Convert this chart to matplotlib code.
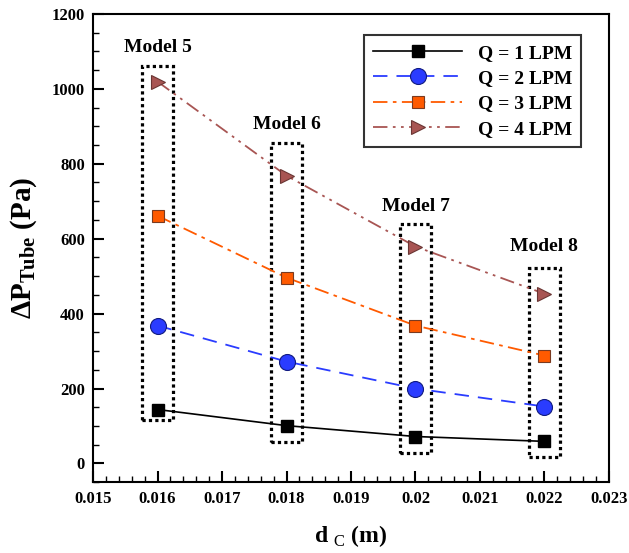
import matplotlib
matplotlib.use("Agg")
import matplotlib.pyplot as plt
from matplotlib.patches import Rectangle
from matplotlib.ticker import MultipleLocator

plt.rcParams['font.family'] = ['Liberation Serif', 'DejaVu Serif']
plt.rcParams['mathtext.fontset'] = 'custom'
plt.rcParams['mathtext.rm'] = 'Liberation Serif'
plt.rcParams['mathtext.bf'] = 'Liberation Serif:bold'

d_c = [0.016, 0.018, 0.020, 0.022]
q1 = [144, 101, 72, 59]
q2 = [368, 272, 200, 152]
q3 = [661, 496, 368, 288]
q4 = [1019, 768, 579, 453]
series_labels = ['Q = 1 LPM', 'Q = 2 LPM', 'Q = 3 LPM', 'Q = 4 LPM']
model_labels = ['Model 5', 'Model 6', 'Model 7', 'Model 8']
box_top = [1061, 856, 640, 523]
box_bottom = [115, 56, 29, 16]
label_y = [1110, 905, 685, 580]

fig = plt.figure(figsize=(6.29, 5.53), dpi=100)
ax = fig.add_axes([0.148, 0.128, 0.820, 0.847])

ax.plot(d_c, q1, color='black', lw=1.2, ls='-', marker='s', ms=8,
        mfc='black', mec='black', label=series_labels[0], zorder=3)
ax.plot(d_c, q2, color='#2a3cff', lw=1.3, ls=(0, (8, 5)), marker='o', ms=11.5,
        mfc='#2a3cff', mec='#101a80', mew=0.8, label=series_labels[1], zorder=3)
ax.plot(d_c, q3, color='#ff5a00', lw=1.3, ls=(0, (8, 3, 2, 3)), marker='s', ms=8,
        mfc='#ff5a00', mec='#7a3a20', mew=0.8, label=series_labels[2], zorder=3)
ax.plot(d_c, q4, color='#a85553', lw=1.3, ls=(0, (8, 3, 1.5, 3, 1.5, 3)), marker='>', ms=10,
        mfc='#a85553', mec='#6a3533', mew=0.8, label=series_labels[3], zorder=3)

half_w = 0.000235
for x, top, bot, lab, ly in zip(d_c, box_top, box_bottom, model_labels, label_y):
    r = Rectangle((x - half_w, bot), 2 * half_w, top - bot, fill=False,
                  ec='black', lw=2.3, ls=(0, (1, 1)), zorder=2)
    ax.add_patch(r)
    ax.text(x, ly, lab, ha='center', va='center', fontsize=14, fontweight='bold')

ax.set_xlim(0.015, 0.023)
ax.set_ylim(-50, 1200)
ax.xaxis.set_minor_locator(MultipleLocator(0.0002))
ax.yaxis.set_major_locator(MultipleLocator(200))
ax.yaxis.set_minor_locator(MultipleLocator(50))
ax.set_xticks([0.015, 0.016, 0.017, 0.018, 0.019, 0.020, 0.021, 0.022, 0.023])
ax.set_xticklabels(['0.015', '0.016', '0.017', '0.018', '0.019', '0.02', '0.021', '0.022', '0.023'])
ax.tick_params(which='both', direction='in', top=False, right=False)
ax.tick_params(which='major', length=8, width=1.5, labelsize=12, pad=6)
ax.tick_params(which='minor', length=4, width=1)
for lbl in ax.get_xticklabels() + ax.get_yticklabels():
    lbl.set_fontweight('bold')
for s in ax.spines.values():
    s.set_linewidth(1.5)

ax.set_xlabel(r'$\mathbf{d}$ $_{\mathrm{C}}$ $\mathbf{(m)}$', fontsize=17, labelpad=12)
ax.set_ylabel(r'$\mathbf{\Delta P_{Tube}}$ $\mathbf{(Pa)}$', fontsize=21, labelpad=9)

leg = ax.legend(loc='upper right', bbox_to_anchor=(0.965, 0.975),
                handlelength=4.6, handletextpad=0.8, frameon=True, fancybox=False,
                edgecolor='black', borderpad=0.45, labelspacing=0.4,
                prop={'weight': 'bold', 'size': 14})
leg.get_frame().set_linewidth(1.5)

fig.savefig('out.png', dpi=100)
